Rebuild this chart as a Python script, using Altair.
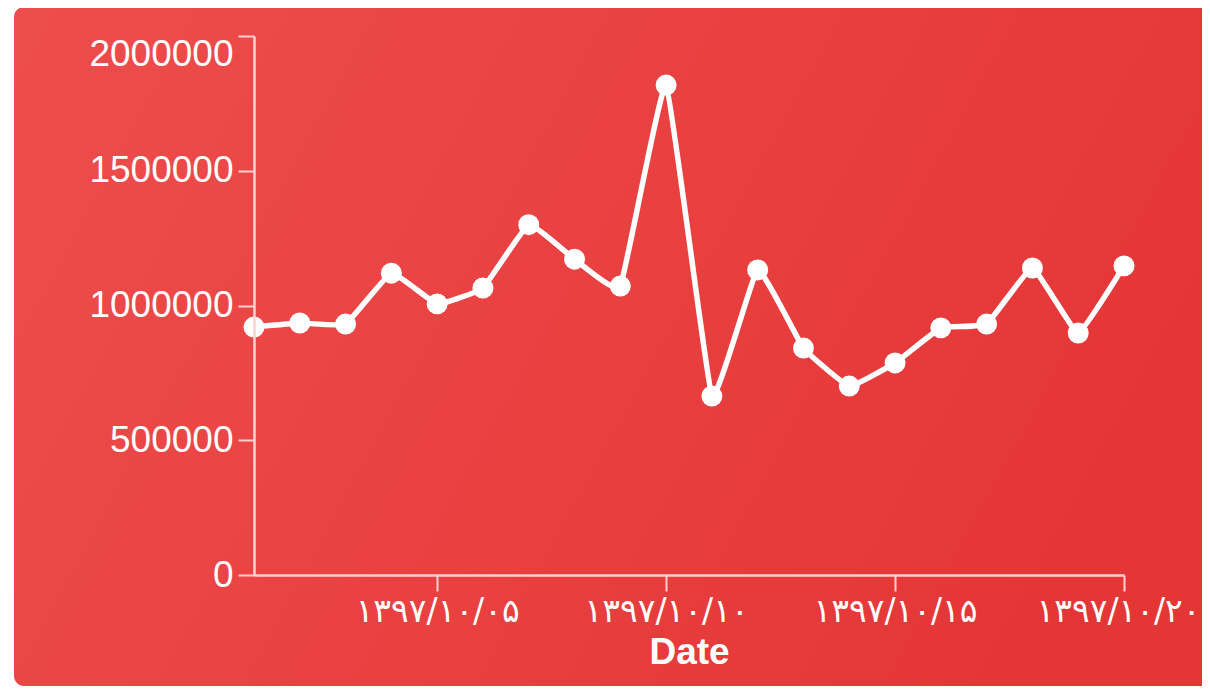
import altair as alt
import pandas as pd

# Persian dates 1397/10/01 .. 1397/10/20
dates = [
    "۱۳۹۷/۱۰/۰۱", "۱۳۹۷/۱۰/۰۲", "۱۳۹۷/۱۰/۰۳", "۱۳۹۷/۱۰/۰۴", "۱۳۹۷/۱۰/۰۵",
    "۱۳۹۷/۱۰/۰۶", "۱۳۹۷/۱۰/۰۷", "۱۳۹۷/۱۰/۰۸", "۱۳۹۷/۱۰/۰۹", "۱۳۹۷/۱۰/۱۰",
    "۱۳۹۷/۱۰/۱۱", "۱۳۹۷/۱۰/۱۲", "۱۳۹۷/۱۰/۱۳", "۱۳۹۷/۱۰/۱۴", "۱۳۹۷/۱۰/۱۵",
    "۱۳۹۷/۱۰/۱۶", "۱۳۹۷/۱۰/۱۷", "۱۳۹۷/۱۰/۱۸", "۱۳۹۷/۱۰/۱۹", "۱۳۹۷/۱۰/۲۰",
]
values = [
    920000, 935000, 931000, 1120000, 1006000,
    1065000, 1300000, 1172000, 1072000, 1818000,
    664000, 1132000, 842000, 701000, 787000,
    917000, 931000, 1139000, 898000, 1147000,
]
x_tick_labels = [dates[4], dates[9], dates[14], dates[19]]
y_ticks = [0, 500000, 1000000, 1500000, 2000000]

df = pd.DataFrame({"date": dates, "value": values})

gradient = {
    "gradient": "linear",
    "x1": 0, "y1": 0, "x2": 1, "y2": 0.3,
    "stops": [
        {"offset": 0, "color": "#ee4d4d"},
        {"offset": 1, "color": "#e53636"},
    ],
}

card = alt.Chart(pd.DataFrame({"a": [0]})).mark_rect(
    fill=gradient, cornerRadius=10
).encode(
    x=alt.value(-240), x2=alt.value(990),
    y=alt.value(-29), y2=alt.value(650),
)

last_label = dates[-1]

x_enc = alt.X(
    "date:O",
    sort=dates,
    scale=alt.Scale(type="point", padding=0),
    axis=alt.Axis(
        values=x_tick_labels,
        labelAngle=0,
        title="Date",
        titleFontWeight="bold",
        titleFontSize=37,
        titleFont="Liberation Sans",
        titleColor="white",
        titlePadding=6,
        labelFont="DejaVu Sans",
        labelFontSize=33,
        labelColor="white",
        labelPadding=4,
        labelOffset={"condition": {"test": f"datum.value == '{last_label}'", "value": -6}, "value": 0},
        tickSize=16,
        tickWidth=2,
        tickColor="#ffd2d2",
        domainColor="#ffd2d2",
        domainWidth=2.5,
        grid=False,
        zindex=1,
    ),
)
y_enc = alt.Y(
    "value:Q",
    scale=alt.Scale(domain=[0, 2000000]),
    axis=alt.Axis(
        values=y_ticks,
        format="d",
        title=None,
        grid=False,
        labelFont="Liberation Sans",
        labelFontSize=37,
        labelColor="white",
        labelPadding=5,
        labelBaseline={"condition": {"test": "datum.value == 2000000", "value": "top"}, "value": "middle"},
        tickSize=16,
        tickWidth=2,
        tickColor="#ffd2d2",
        domainColor="#ffd2d2",
        domainWidth=2.5,
        zindex=1,
    ),
)

base = alt.Chart(df).encode(x=x_enc, y=y_enc)
line = base.mark_line(interpolate="cardinal", tension=0.7, color="white", strokeWidth=5.5)
points = base.mark_point(filled=True, size=440, color="white", opacity=1)

chart = alt.layer(card, line, points).properties(
    width=870,
    height=539,
    padding={"left": 246, "top": 28, "right": 78, "bottom": 112},
    autosize=alt.AutoSizeParams(type="none"),
    background="white",
).configure_view(stroke=None)

chart.save("out.html", embed_options={"renderer": "svg", "actions": False})
